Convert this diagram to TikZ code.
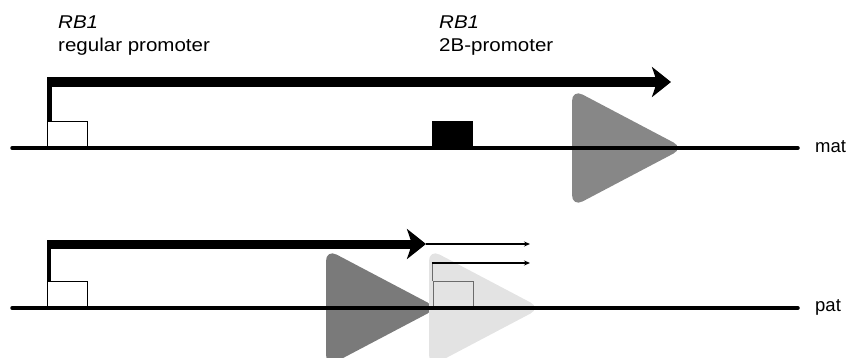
\documentclass[tikz,border=0pt]{standalone}
\usepackage{fontspec}
\setmainfont{Liberation Sans}
\usetikzlibrary{arrows.meta}
\newcommand{\widetext}[1]{\scalebox{1.11}[1]{#1}}
\begin{document}
\begin{tikzpicture}[x=1pt,y=-1pt,
  strand/.style={line width=3.5pt, line cap=round},
  promoterbox/.style={draw, line width=1.4pt, inner sep=0pt, minimum width=40pt, minimum height=26pt, anchor=south west},
  blob/.style={rounded corners=12pt},
  lbl/.style={font=\fontsize{18.5}{22}\selectfont, anchor=base west, inner sep=0pt},
  thinarrow/.style={line width=1.4pt, -{Stealth[length=6pt, width=5pt]}},
  bigarrow/.style={line width=#1, -{Stealth[length=19pt, width=30pt, inset=5pt]}},
]
\useasboundingbox (0,0) rectangle (848,358);
\clip (0,0) rectangle (848,358);

% labels above the maternal strand
\node[lbl] (rbA) at (58,29) {\widetext{\itshape RB1}};
\node[lbl] (regp) at (58,52) {\widetext{regular promoter}};
\node[lbl] (rbB) at (439,29) {\widetext{\itshape RB1}};
\node[lbl] (twob) at (439,52) {\widetext{2B-promoter}};

% gray triangles behind the strands
\fill[blob, fill=black!47] (572,89) -- (684,148) -- (572,207) -- cycle;
\fill[blob, fill=black!52] (326,249) -- (438,308) -- (326,367) -- cycle;
\fill[blob, fill=black!11] (429,249) -- (541,308) -- (429,367) -- cycle;

% maternal strand
\coordinate (matL) at (12,148);
\coordinate (matR) at (798,148);
\node[promoterbox] (regM) at (47,148) {};
\node[promoterbox, fill=black] (twoM) at (432,148) {};
\draw[strand] (matL) -- (matR);
\node[lbl, anchor=west] (mat) at (815,147) {mat};

% transcript from the regular promoter (maternal)
\coordinate (mcorner) at ([xshift=2.5pt]regM.north west |- 0,82);
\coordinate (mend) at (671,82);
\draw[line width=5pt] ([xshift=2.5pt]regM.north west) -- ([yshift=-5pt]mcorner);
\draw[bigarrow=10pt] ([xshift=-2.5pt]mcorner) -- (mend);

% paternal strand
\coordinate (patL) at (12,308);
\coordinate (patR) at (798,308);
\node[promoterbox] (regP) at (47,308) {};
\node[promoterbox, draw=black!58] (twoP) at (432.5,308) {};
\draw[strand] (patL) -- (patR);
\node[lbl, anchor=west] (pat) at (815,307) {pat};

% truncated transcript from the regular promoter (paternal)
\coordinate (pcorner) at ([xshift=2pt]regP.north west |- 0,244);
\coordinate (pend) at (426,244);
\draw[line width=4.5pt] ([xshift=2pt]regP.north west) -- ([yshift=-4.5pt]pcorner);
\draw[bigarrow=9pt] ([xshift=-2pt]pcorner) -- (pend);
\coordinate (pthin) at (530,244);
\draw[thinarrow] (pend) -- (pthin);

% transcript from the 2B-promoter (paternal)
\coordinate (bcorner) at (twoP.north west |- 0,263);
\coordinate (bthin) at (530,263);
\draw[line width=1.4pt, black!58] (twoP.north west) -- (bcorner);
\draw[thinarrow] ([xshift=-0.7pt]bcorner) -- (bthin);
\end{tikzpicture}
\end{document}
